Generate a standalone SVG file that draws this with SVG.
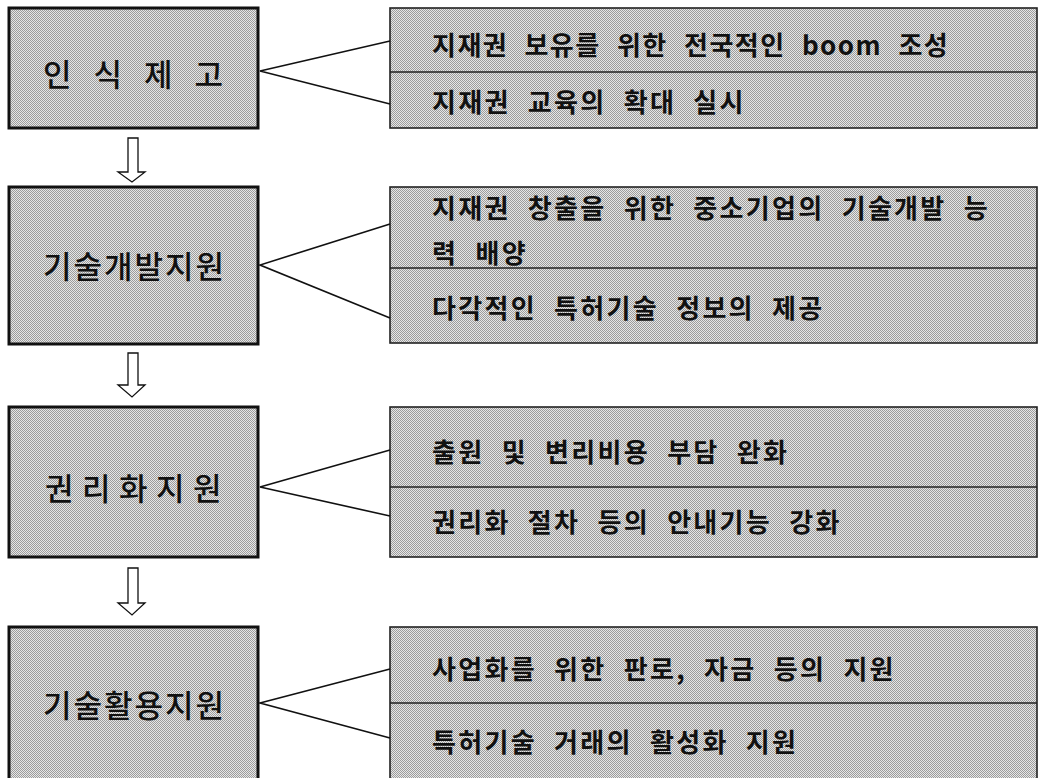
<svg xmlns="http://www.w3.org/2000/svg" width="1039" height="778" viewBox="0 0 1039 778">
<defs>
<pattern id="ht" width="2" height="2" patternUnits="userSpaceOnUse">
<rect width="2" height="2" fill="#e6e6e6"/>
<rect x="0" y="0" width="1" height="1" fill="#9c9c9c"/>
<rect x="1" y="1" width="1" height="1" fill="#9c9c9c"/>
</pattern>
</defs>
<style>
.main{fill:url(#ht);stroke:#111;stroke-width:3}
.sub{fill:url(#ht);stroke:#222;stroke-width:1.6}
.div{stroke:#222;stroke-width:1.4;fill:none}
.lt{font-family:"Noto Sans CJK KR",sans-serif;font-size:31px;font-weight:500;fill:#111;dominant-baseline:central}
.rt{font-family:"Noto Sans CJK KR",sans-serif;font-size:26px;font-weight:700;fill:#111;letter-spacing:2.3px;word-spacing:9px;dominant-baseline:central}
.con{stroke:#111;stroke-width:1.6;fill:none}
.arr{fill:#fff;stroke:#111;stroke-width:1.3}
</style>
<rect width="1039" height="778" fill="#fff"/>
<g id="n1">
<rect class="main" x="9" y="8" width="249" height="120"/>
<text class="lt" x="43" y="72" letter-spacing="22">인식제고</text>
</g>
<g id="r1">
<rect class="sub" x="390" y="8" width="647" height="120"/>
<line class="div" x1="390" y1="72" x2="1037" y2="72"/>
<text class="rt" x="432" y="43" textLength="518" lengthAdjust="spacing">지재권 보유를 위한 전국적인 boom 조성</text>
<text class="rt" x="432" y="100">지재권 교육의 확대 실시</text>
</g>
<g id="n2">
<rect class="main" x="9" y="187" width="249" height="157"/>
<text class="lt" x="43" y="264" letter-spacing="2">기술개발지원</text>
</g>
<g id="r2">
<rect class="sub" x="390" y="187" width="647" height="156"/>
<line class="div" x1="390" y1="268" x2="1037" y2="268"/>
<text class="rt" x="432" y="206">지재권 창출을 위한 중소기업의 기술개발 능</text>
<text class="rt" x="432" y="251">력 배양</text>
<text class="rt" x="432" y="306">다각적인 특허기술 정보의 제공</text>
</g>
<g id="n3">
<rect class="main" x="9" y="407" width="249" height="150"/>
<text class="lt" x="45" y="486" letter-spacing="8.5">권리화지원</text>
</g>
<g id="r3">
<rect class="sub" x="390" y="407" width="647" height="150"/>
<line class="div" x1="390" y1="487" x2="1037" y2="487"/>
<text class="rt" x="432" y="450">출원 및 변리비용 부담 완화</text>
<text class="rt" x="432" y="520">권리화 절차 등의 안내기능 강화</text>
</g>
<g id="n4">
<rect class="main" x="9" y="627" width="249" height="160"/>
<text class="lt" x="43" y="703" letter-spacing="2">기술활용지원</text>
</g>
<g id="r4">
<rect class="sub" x="390" y="627" width="647" height="160"/>
<line class="div" x1="390" y1="703" x2="1037" y2="703"/>
<text class="rt" x="432" y="667">사업화를 위한 판로, 자금 등의 지원</text>
<text class="rt" x="432" y="740">특허기술 거래의 활성화 지원</text>
</g>
<g id="connectors">
<polyline class="con" points="390,41 260,71 390,104"/>
<polyline class="con" points="390,224 260,265 390,318"/>
<polyline class="con" points="390,450 260,487 390,516"/>
<polyline class="con" points="390,669 260,703 390,738"/>
<polygon class="arr" points="128,138 138,138 138,172 145,172 132,182 118,172 128,172"/>
<polygon class="arr" points="128,353 138,353 138,385 145,385 132,397 118,385 128,385"/>
<polygon class="arr" points="128,568 138,568 138,603 145,603 132,615 118,603 128,603"/>
</g>
</svg>
